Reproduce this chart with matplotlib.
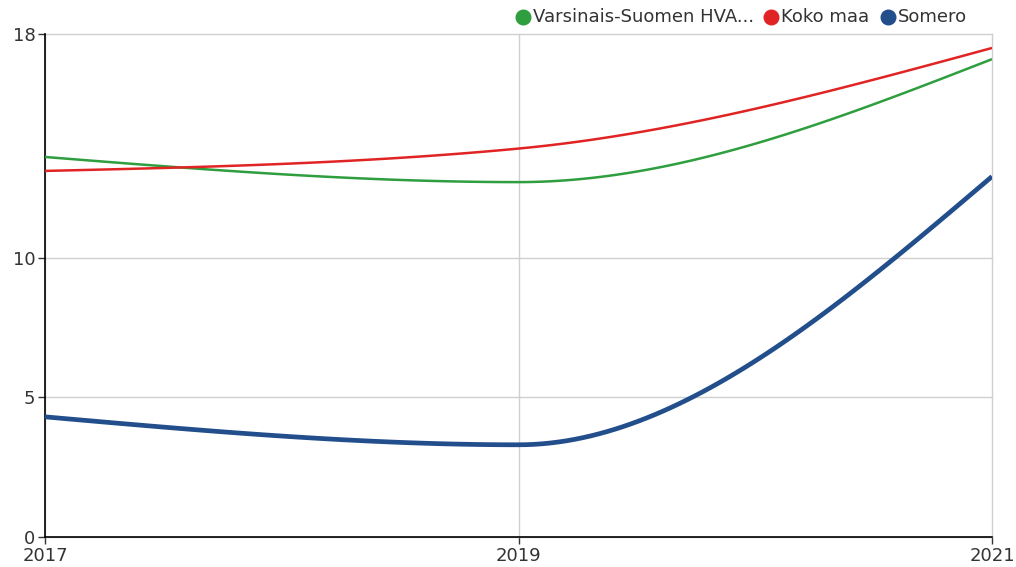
import numpy as np
import matplotlib.pyplot as plt
from matplotlib.lines import Line2D

plt.rcParams['font.family'] = ['DejaVu Sans']

# ── data ────────────────────────────────────────────────────────────────
years = [2017, 2019, 2021]
series_names = ['Varsinais-Suomen HVA...', 'Koko maa', 'Somero']
hva = [13.6, 12.7, 17.1]
koko_maa = [13.1, 13.9, 17.5]
somero = [4.3, 3.3, 12.9]
y_ticks = [0, 5, 10, 18]

colors = ['#2e9e3e', '#e02424', '#224f8c']
widths = [1.8, 1.8, 3.4]
W, H = 1016, 567


def monotone_x(x, y, n=60):
    # d3 curveMonotoneX style interpolation
    x = np.asarray(x, float)
    y = np.asarray(y, float)
    h = np.diff(x)
    s = np.diff(y) / h
    t = np.zeros(len(x))
    for i in range(1, len(x) - 1):
        p = (s[i - 1] * h[i] + s[i] * h[i - 1]) / (h[i - 1] + h[i])
        t[i] = (np.sign(s[i - 1]) + np.sign(s[i])) * min(abs(s[i - 1]), abs(s[i]), 0.5 * abs(p))
    t[0] = (3 * s[0] - t[1]) / 2
    t[-1] = (3 * s[-1] - t[-2]) / 2
    xs, ys = [], []
    for i in range(len(x) - 1):
        u = np.linspace(0, 1, n)
        dx = h[i] / 3
        p0, p3 = y[i], y[i + 1]
        p1, p2 = y[i] + dx * t[i], y[i + 1] - dx * t[i + 1]
        bx = x[i] + u * h[i]
        by = (1 - u) ** 3 * p0 + 3 * (1 - u) ** 2 * u * p1 + 3 * (1 - u) * u ** 2 * p2 + u ** 3 * p3
        xs.append(bx)
        ys.append(by)
    return np.concatenate(xs), np.concatenate(ys)


fig = plt.figure(figsize=(W / 100, H / 100), dpi=100)
ax = fig.add_axes([45 / W, 1 - 537 / H, (992 - 45) / W, (537 - 34) / H])

for vals, c, lw in zip([hva, koko_maa, somero], colors, widths):
    sx, sy = monotone_x(years, vals)
    ax.plot(sx, sy, color=c, lw=lw, solid_capstyle='butt', zorder=3)

ax.set_xlim(2017, 2021)
ax.set_ylim(0, 18)
ax.set_xticks(years)
ax.set_yticks(y_ticks)
ax.grid(True, color='#d0d0d0', lw=1)
for gl in ax.get_xgridlines() + ax.get_ygridlines():
    gl.set_clip_on(False)
ax.set_axisbelow(True)
for side in ['top', 'right']:
    ax.spines[side].set_visible(False)
for side in ['left', 'bottom']:
    ax.spines[side].set_color('#000000')
    ax.spines[side].set_linewidth(1.2)
ax.tick_params(length=5, width=1, labelsize=13, colors='#333333')
ax.tick_params(axis='x', pad=2.5)
ax.tick_params(axis='y', pad=2)
ax.set_xticklabels([str(y) for y in years])

# legend drawn by hand (circle marker + label), top right
leg_x = [523, 771, 888]
for xm, name, c in zip(leg_x, series_names, colors):
    fig.add_artist(Line2D([xm / W], [1 - 17 / H], marker='o', ls='', color=c,
                          markersize=10.5, transform=fig.transFigure))
    fig.text((xm + 10) / W, 1 - 17 / H, name, fontsize=13, color='#333333',
             ha='left', va='center')

plt.savefig('out.png', dpi=100)
